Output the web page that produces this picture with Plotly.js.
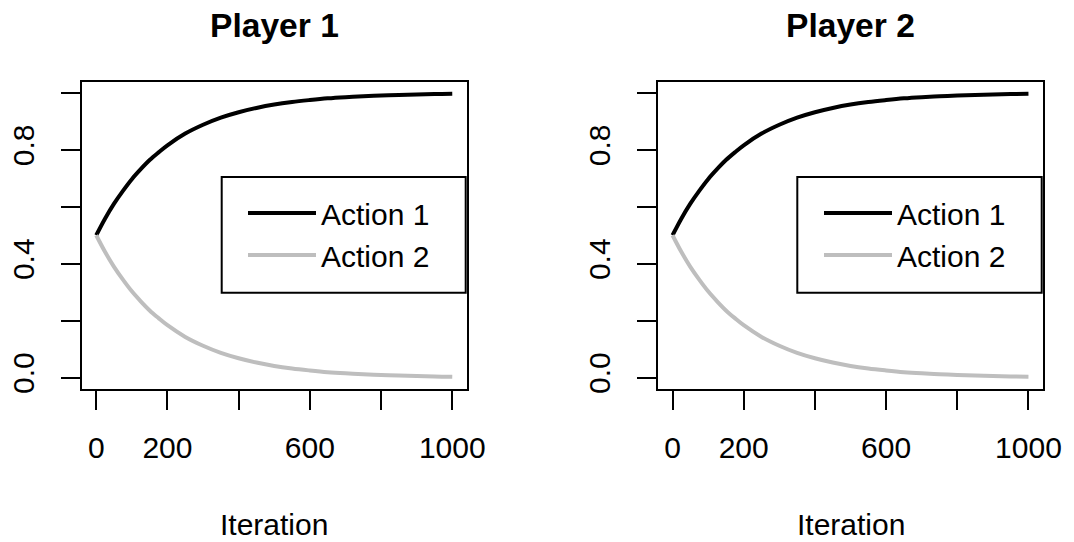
<!DOCTYPE html>
<html>
<head>
<meta charset="utf-8">
<script src="https://cdn.plot.ly/plotly-3.0.1.min.js"></script>
<style>html,body{margin:0;padding:0;background:#fff;}#chart{width:1074px;height:542px;}</style>
</head>
<body>
<div id="chart"></div>
<script>
// ---- data ----
var iterations = [0, 25, 50, 75, 100, 125, 150, 175, 200, 250, 300, 350, 400, 450, 500, 550, 600, 650, 700, 750, 800, 850, 900, 950, 1000];
var player1Action1 = [0.500, 0.559, 0.611, 0.656, 0.697, 0.732, 0.764, 0.791, 0.816, 0.857, 0.888, 0.913, 0.932, 0.947, 0.959, 0.968, 0.975, 0.981, 0.985, 0.988, 0.991, 0.993, 0.994, 0.996, 0.997];
var player1Action2 = [0.500, 0.441, 0.389, 0.344, 0.303, 0.268, 0.236, 0.209, 0.184, 0.143, 0.112, 0.087, 0.068, 0.053, 0.041, 0.032, 0.025, 0.019, 0.015, 0.012, 0.009, 0.007, 0.006, 0.004, 0.003];
var player2Action1 = [0.500, 0.559, 0.611, 0.656, 0.697, 0.732, 0.764, 0.791, 0.816, 0.857, 0.888, 0.913, 0.932, 0.947, 0.959, 0.968, 0.975, 0.981, 0.985, 0.988, 0.991, 0.993, 0.994, 0.996, 0.997];
var player2Action2 = [0.500, 0.441, 0.389, 0.344, 0.303, 0.268, 0.236, 0.209, 0.184, 0.143, 0.112, 0.087, 0.068, 0.053, 0.041, 0.032, 0.025, 0.019, 0.015, 0.012, 0.009, 0.007, 0.006, 0.004, 0.003];
var seriesNames = ["Action 1", "Action 2"];
var panelTitles = ["Player 1", "Player 2"];
var xTickVals = [0, 200, 400, 600, 800, 1000];
var xTickText = ["0", "200", "", "600", "", "1000"];
var yTickVals = [0, 0.2, 0.4, 0.6, 0.8, 1.0];
var yTickText = ["0.0", "", "0.4", "", "0.8", ""];
var xLabel = "Iteration";

var W = 1074, H = 542;
var FONT = "Liberation Sans, Arial, Helvetica, sans-serif";
var colA1 = "#000000", colA2 = "#BEBEBE";

function px(x) { return x / W; }
function py(y) { return 1 - y / H; }

function lineTrace(y, name, color, xa, ya, lg) {
  return {x: iterations, y: y, name: name, type: "scatter", mode: "lines",
          line: {color: color, width: 4, shape: "spline", smoothing: 1},
          xaxis: xa, yaxis: ya, legend: lg};
}
var traces = [
  lineTrace(player1Action1, seriesNames[0], colA1, "x", "y", "legend"),
  lineTrace(player1Action2, seriesNames[1], colA2, "x", "y", "legend"),
  lineTrace(player2Action1, seriesNames[0], colA1, "x2", "y2", "legend2"),
  lineTrace(player2Action2, seriesNames[1], colA2, "x2", "y2", "legend2")
];

function xAxis(domain, anchor) {
  return {
    domain: domain, range: [-40, 1040], showgrid: false, zeroline: false,
    showline: true, mirror: true, linecolor: "#000", linewidth: 2,
    ticks: "outside", ticklen: 19, tickwidth: 2, tickcolor: "#000",
    tickvals: xTickVals, ticktext: xTickText, anchor: anchor,
    tickfont: {family: FONT, size: 30, color: "#000"}, ticklabelstandoff: 12
  };
}
function yAxis(domain, anchor) {
  return {
    domain: domain, range: [-0.04, 1.04], showgrid: false, zeroline: false,
    showline: true, mirror: true, linecolor: "#000", linewidth: 2,
    ticks: "outside", ticklen: 19, tickwidth: 2, tickcolor: "#000",
    tickvals: yTickVals, ticktext: yTickText, tickangle: -90,
    tickfont: {family: FONT, size: 30, color: "#000"}, anchor: anchor, ticklabelstandoff: 15
  };
}

var yDom = [py(389), py(81.5)];
var legendFont = {family: FONT, size: 30, color: "#000"};
var layout = {
  width: W, height: H,
  margin: {l: 0, r: 0, t: 0, b: 0, pad: 0},
  paper_bgcolor: "#fff", plot_bgcolor: "#fff",
  showlegend: true,
  xaxis: xAxis([px(82), px(466.5)], "y"),
  yaxis: yAxis(yDom, "x"),
  xaxis2: xAxis([px(658.3), px(1042.7)], "x2" === "x2" ? "y2" : "y2"),
  yaxis2: yAxis(yDom, "x2"),
  legend: {x: px(243), y: py(234), xanchor: "left", yanchor: "middle",
           bgcolor: "rgba(0,0,0,0)", borderwidth: 0, font: legendFont, itemwidth: 68, tracegroupgap: 0},
  legend2: {x: px(819), y: py(234), xanchor: "left", yanchor: "middle",
           bgcolor: "rgba(0,0,0,0)", borderwidth: 0, font: legendFont, itemwidth: 68, tracegroupgap: 0},
  shapes: [
    {type: "rect", xref: "paper", yref: "paper", x0: px(221.7), x1: px(465.7), y0: py(292.7), y1: py(177),
     line: {color: "#000", width: 2}, fillcolor: "rgba(0,0,0,0)", layer: "above"},
    {type: "rect", xref: "paper", yref: "paper", x0: px(797.3), x1: px(1041.7), y0: py(292.7), y1: py(177),
     line: {color: "#000", width: 2}, fillcolor: "rgba(0,0,0,0)", layer: "above"}
  ],
  annotations: [
    {text: "<b>" + panelTitles[0] + "</b>", xref: "paper", yref: "paper", x: px(274.3), y: py(25),
     xanchor: "center", yanchor: "middle", showarrow: false, font: {family: FONT, size: 33.6, color: "#000"}},
    {text: "<b>" + panelTitles[1] + "</b>", xref: "paper", yref: "paper", x: px(850.5), y: py(25),
     xanchor: "center", yanchor: "middle", showarrow: false, font: {family: FONT, size: 33.6, color: "#000"}},
    {text: xLabel, xref: "paper", yref: "paper", x: px(274.3), y: py(524),
     xanchor: "center", yanchor: "middle", showarrow: false, font: {family: FONT, size: 30, color: "#000"}},
    {text: xLabel, xref: "paper", yref: "paper", x: px(850.5), y: py(524),
     xanchor: "center", yanchor: "middle", showarrow: false, font: {family: FONT, size: 30, color: "#000"}}
  ]
};

Plotly.newPlot("chart", traces, layout, {displayModeBar: false, staticPlot: true});
</script>
</body>
</html>
